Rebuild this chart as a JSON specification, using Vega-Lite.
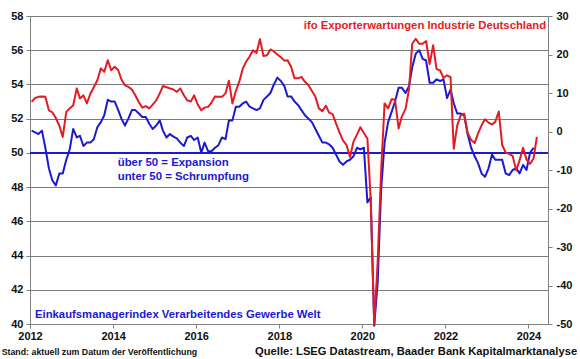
{
  "$schema": "https://vega.github.io/schema/vega-lite/v6.json",
  "width": 518,
  "height": 308,
  "autosize": {"type": "none"},
  "padding": {"left": 30, "top": 16, "right": 32, "bottom": 35},
  "background": "white",
  "config": {"view": {"stroke": null}, "font": "Liberation Sans"},
  "datasets": {
    "pmi": [
      {"date": "2012-01-15", "value": 51.3}, {"date": "2012-02-15", "value": 51.2}, {"date": "2012-03-15", "value": 51.1}, {"date": "2012-04-15", "value": 51.3},
      {"date": "2012-05-15", "value": 50.3}, {"date": "2012-06-15", "value": 49.1}, {"date": "2012-07-15", "value": 48.4}, {"date": "2012-08-15", "value": 48.1},
      {"date": "2012-09-15", "value": 48.8}, {"date": "2012-10-15", "value": 48.8}, {"date": "2012-11-15", "value": 49.6}, {"date": "2012-12-15", "value": 50.2},
      {"date": "2013-01-15", "value": 51.4}, {"date": "2013-02-15", "value": 50.9}, {"date": "2013-03-15", "value": 51.0}, {"date": "2013-04-15", "value": 50.4},
      {"date": "2013-05-15", "value": 50.6}, {"date": "2013-06-15", "value": 50.6}, {"date": "2013-07-15", "value": 50.8}, {"date": "2013-08-15", "value": 51.5},
      {"date": "2013-09-15", "value": 51.8}, {"date": "2013-10-15", "value": 52.2}, {"date": "2013-11-15", "value": 53.1}, {"date": "2013-12-15", "value": 53.0},
      {"date": "2014-01-15", "value": 53.0}, {"date": "2014-02-15", "value": 52.5}, {"date": "2014-03-15", "value": 52.0}, {"date": "2014-04-15", "value": 51.6},
      {"date": "2014-05-15", "value": 52.0}, {"date": "2014-06-15", "value": 52.5}, {"date": "2014-07-15", "value": 52.5}, {"date": "2014-08-15", "value": 52.3},
      {"date": "2014-09-15", "value": 52.1}, {"date": "2014-10-15", "value": 52.1}, {"date": "2014-11-15", "value": 51.7}, {"date": "2014-12-15", "value": 51.4},
      {"date": "2015-01-15", "value": 51.6}, {"date": "2015-02-15", "value": 51.9}, {"date": "2015-03-15", "value": 51.3}, {"date": "2015-04-15", "value": 50.9},
      {"date": "2015-05-15", "value": 51.1}, {"date": "2015-06-15", "value": 50.95}, {"date": "2015-07-15", "value": 50.85}, {"date": "2015-08-15", "value": 50.6},
      {"date": "2015-09-15", "value": 50.4}, {"date": "2015-10-15", "value": 50.9}, {"date": "2015-11-15", "value": 51.0}, {"date": "2015-12-15", "value": 50.75},
      {"date": "2016-01-15", "value": 50.9}, {"date": "2016-02-15", "value": 50.0}, {"date": "2016-03-15", "value": 50.6}, {"date": "2016-04-15", "value": 50.1},
      {"date": "2016-05-15", "value": 50.1}, {"date": "2016-06-15", "value": 50.3}, {"date": "2016-07-15", "value": 50.45}, {"date": "2016-08-15", "value": 50.9},
      {"date": "2016-09-15", "value": 50.8}, {"date": "2016-10-15", "value": 51.9}, {"date": "2016-11-15", "value": 51.9}, {"date": "2016-12-15", "value": 52.7},
      {"date": "2017-01-15", "value": 52.7}, {"date": "2017-02-15", "value": 52.9}, {"date": "2017-03-15", "value": 53.0}, {"date": "2017-04-15", "value": 52.7},
      {"date": "2017-05-15", "value": 52.6}, {"date": "2017-06-15", "value": 52.5}, {"date": "2017-07-15", "value": 52.6}, {"date": "2017-08-15", "value": 53.1},
      {"date": "2017-09-15", "value": 53.3}, {"date": "2017-10-15", "value": 53.5}, {"date": "2017-11-15", "value": 54.0}, {"date": "2017-12-15", "value": 54.4},
      {"date": "2018-01-15", "value": 54.2}, {"date": "2018-02-15", "value": 53.9}, {"date": "2018-03-15", "value": 53.3}, {"date": "2018-04-15", "value": 53.3},
      {"date": "2018-05-15", "value": 53.0}, {"date": "2018-06-15", "value": 52.8}, {"date": "2018-07-15", "value": 52.5}, {"date": "2018-08-15", "value": 52.2},
      {"date": "2018-09-15", "value": 52.0}, {"date": "2018-10-15", "value": 51.8}, {"date": "2018-11-15", "value": 51.4}, {"date": "2018-12-15", "value": 51.0},
      {"date": "2019-01-15", "value": 50.6}, {"date": "2019-02-15", "value": 50.6}, {"date": "2019-03-15", "value": 50.5}, {"date": "2019-04-15", "value": 50.3},
      {"date": "2019-05-15", "value": 49.9}, {"date": "2019-06-15", "value": 49.5}, {"date": "2019-07-15", "value": 49.3}, {"date": "2019-08-15", "value": 49.5},
      {"date": "2019-09-15", "value": 49.6}, {"date": "2019-10-15", "value": 49.8}, {"date": "2019-11-15", "value": 50.3}, {"date": "2019-12-15", "value": 50.2},
      {"date": "2020-01-15", "value": 50.3}, {"date": "2020-02-15", "value": 47.1}, {"date": "2020-03-15", "value": 47.4}, {"date": "2020-04-15", "value": 39.9},
      {"date": "2020-05-15", "value": 42.4}, {"date": "2020-06-15", "value": 47.9}, {"date": "2020-07-15", "value": 50.6}, {"date": "2020-08-15", "value": 51.8},
      {"date": "2020-09-15", "value": 52.4}, {"date": "2020-10-15", "value": 53.0}, {"date": "2020-11-15", "value": 53.8}, {"date": "2020-12-15", "value": 53.8},
      {"date": "2021-01-15", "value": 53.5}, {"date": "2021-02-15", "value": 53.9}, {"date": "2021-03-15", "value": 55.0}, {"date": "2021-04-15", "value": 55.8},
      {"date": "2021-05-15", "value": 56.0}, {"date": "2021-06-15", "value": 55.5}, {"date": "2021-07-15", "value": 55.4}, {"date": "2021-08-15", "value": 54.1},
      {"date": "2021-09-15", "value": 54.1}, {"date": "2021-10-15", "value": 54.3}, {"date": "2021-11-15", "value": 54.2}, {"date": "2021-12-15", "value": 54.3},
      {"date": "2022-01-15", "value": 53.2}, {"date": "2022-02-15", "value": 53.7}, {"date": "2022-03-15", "value": 52.9}, {"date": "2022-04-15", "value": 52.3},
      {"date": "2022-05-15", "value": 52.3}, {"date": "2022-06-15", "value": 52.2}, {"date": "2022-07-15", "value": 51.1}, {"date": "2022-08-15", "value": 50.3},
      {"date": "2022-09-15", "value": 49.8}, {"date": "2022-10-15", "value": 49.4}, {"date": "2022-11-15", "value": 48.8}, {"date": "2022-12-15", "value": 48.6},
      {"date": "2023-01-15", "value": 49.1}, {"date": "2023-02-15", "value": 49.9}, {"date": "2023-03-15", "value": 49.6}, {"date": "2023-04-15", "value": 49.6},
      {"date": "2023-05-15", "value": 49.6}, {"date": "2023-06-15", "value": 48.8}, {"date": "2023-07-15", "value": 48.7}, {"date": "2023-08-15", "value": 49.0},
      {"date": "2023-09-15", "value": 49.1}, {"date": "2023-10-15", "value": 48.8}, {"date": "2023-11-15", "value": 49.3}, {"date": "2023-12-15", "value": 49.0},
      {"date": "2024-01-15", "value": 50.0}, {"date": "2024-02-15", "value": 50.3}
    ],
    "ifo": [
      {"date": "2012-01-15", "value": 7.7}, {"date": "2012-02-15", "value": 8.7}, {"date": "2012-03-15", "value": 9.0}, {"date": "2012-04-15", "value": 9.1},
      {"date": "2012-05-15", "value": 9.0}, {"date": "2012-06-15", "value": 5.5}, {"date": "2012-07-15", "value": 5.0}, {"date": "2012-08-15", "value": 3.5},
      {"date": "2012-09-15", "value": 1.5}, {"date": "2012-10-15", "value": -1.4}, {"date": "2012-11-15", "value": 5.1}, {"date": "2012-12-15", "value": 6.0},
      {"date": "2013-01-15", "value": 6.8}, {"date": "2013-02-15", "value": 11.2}, {"date": "2013-03-15", "value": 8.6}, {"date": "2013-04-15", "value": 9.4},
      {"date": "2013-05-15", "value": 7.3}, {"date": "2013-06-15", "value": 9.8}, {"date": "2013-07-15", "value": 11.5}, {"date": "2013-08-15", "value": 13.3},
      {"date": "2013-09-15", "value": 16.4}, {"date": "2013-10-15", "value": 15.5}, {"date": "2013-11-15", "value": 18.5}, {"date": "2013-12-15", "value": 15.9},
      {"date": "2014-01-15", "value": 16.8}, {"date": "2014-02-15", "value": 15.9}, {"date": "2014-03-15", "value": 13.5}, {"date": "2014-04-15", "value": 12.0},
      {"date": "2014-05-15", "value": 11.6}, {"date": "2014-06-15", "value": 10.9}, {"date": "2014-07-15", "value": 9.4}, {"date": "2014-08-15", "value": 7.6},
      {"date": "2014-09-15", "value": 6.2}, {"date": "2014-10-15", "value": 6.6}, {"date": "2014-11-15", "value": 6.0}, {"date": "2014-12-15", "value": 7.0},
      {"date": "2015-01-15", "value": 8.1}, {"date": "2015-02-15", "value": 9.9}, {"date": "2015-03-15", "value": 11.8}, {"date": "2015-04-15", "value": 11.5},
      {"date": "2015-05-15", "value": 11.2}, {"date": "2015-06-15", "value": 10.9}, {"date": "2015-07-15", "value": 10.3}, {"date": "2015-08-15", "value": 11.2},
      {"date": "2015-09-15", "value": 9.4}, {"date": "2015-10-15", "value": 8.1}, {"date": "2015-11-15", "value": 7.8}, {"date": "2015-12-15", "value": 9.4},
      {"date": "2016-01-15", "value": 7.0}, {"date": "2016-02-15", "value": 5.5}, {"date": "2016-03-15", "value": 6.2}, {"date": "2016-04-15", "value": 6.4},
      {"date": "2016-05-15", "value": 7.5}, {"date": "2016-06-15", "value": 9.1}, {"date": "2016-07-15", "value": 9.0}, {"date": "2016-08-15", "value": 9.0},
      {"date": "2016-09-15", "value": 9.9}, {"date": "2016-10-15", "value": 13.2}, {"date": "2016-11-15", "value": 7.3}, {"date": "2016-12-15", "value": 10.5},
      {"date": "2017-01-15", "value": 13.0}, {"date": "2017-02-15", "value": 16.4}, {"date": "2017-03-15", "value": 18.1}, {"date": "2017-04-15", "value": 19.5},
      {"date": "2017-05-15", "value": 21.1}, {"date": "2017-06-15", "value": 20.4}, {"date": "2017-07-15", "value": 24.0}, {"date": "2017-08-15", "value": 19.6},
      {"date": "2017-09-15", "value": 19.8}, {"date": "2017-10-15", "value": 21.3}, {"date": "2017-11-15", "value": 20.8}, {"date": "2017-12-15", "value": 20.0},
      {"date": "2018-01-15", "value": 19.3}, {"date": "2018-02-15", "value": 18.4}, {"date": "2018-03-15", "value": 18.5}, {"date": "2018-04-15", "value": 16.8},
      {"date": "2018-05-15", "value": 13.8}, {"date": "2018-06-15", "value": 13.8}, {"date": "2018-07-15", "value": 14.2}, {"date": "2018-08-15", "value": 12.9},
      {"date": "2018-09-15", "value": 12.0}, {"date": "2018-10-15", "value": 10.5}, {"date": "2018-11-15", "value": 9.0}, {"date": "2018-12-15", "value": 6.0},
      {"date": "2019-01-15", "value": 5.3}, {"date": "2019-02-15", "value": 6.7}, {"date": "2019-03-15", "value": 4.9}, {"date": "2019-04-15", "value": 4.5},
      {"date": "2019-05-15", "value": 2.1}, {"date": "2019-06-15", "value": -0.3}, {"date": "2019-07-15", "value": -2.3}, {"date": "2019-08-15", "value": -3.5},
      {"date": "2019-09-15", "value": -6.6}, {"date": "2019-10-15", "value": -2.7}, {"date": "2019-11-15", "value": -0.8}, {"date": "2019-12-15", "value": 1.1},
      {"date": "2020-01-15", "value": -0.4}, {"date": "2020-02-15", "value": -1.8}, {"date": "2020-03-15", "value": -17.8}, {"date": "2020-04-15", "value": -50.0},
      {"date": "2020-05-15", "value": -34.0}, {"date": "2020-06-15", "value": -10.0}, {"date": "2020-07-15", "value": 7.3}, {"date": "2020-08-15", "value": 6.0},
      {"date": "2020-09-15", "value": 8.4}, {"date": "2020-10-15", "value": 8.3}, {"date": "2020-11-15", "value": 0.8}, {"date": "2020-12-15", "value": 4.0},
      {"date": "2021-01-15", "value": 5.8}, {"date": "2021-02-15", "value": 11.0}, {"date": "2021-03-15", "value": 22.8}, {"date": "2021-04-15", "value": 24.1},
      {"date": "2021-05-15", "value": 22.8}, {"date": "2021-06-15", "value": 22.8}, {"date": "2021-07-15", "value": 23.5}, {"date": "2021-08-15", "value": 17.5},
      {"date": "2021-09-15", "value": 22.4}, {"date": "2021-10-15", "value": 16.2}, {"date": "2021-11-15", "value": 15.9}, {"date": "2021-12-15", "value": 13.9},
      {"date": "2022-01-15", "value": 14.6}, {"date": "2022-02-15", "value": 14.1}, {"date": "2022-03-15", "value": -4.5}, {"date": "2022-04-15", "value": 1.6},
      {"date": "2022-05-15", "value": 4.2}, {"date": "2022-06-15", "value": 4.6}, {"date": "2022-07-15", "value": -0.3}, {"date": "2022-08-15", "value": -2.2},
      {"date": "2022-09-15", "value": -3.0}, {"date": "2022-10-15", "value": -0.5}, {"date": "2022-11-15", "value": 1.6}, {"date": "2022-12-15", "value": 3.2},
      {"date": "2023-01-15", "value": 2.3}, {"date": "2023-02-15", "value": 1.8}, {"date": "2023-03-15", "value": 2.5}, {"date": "2023-04-15", "value": 5.2},
      {"date": "2023-05-15", "value": -3.5}, {"date": "2023-06-15", "value": -5.5}, {"date": "2023-07-15", "value": -5.8}, {"date": "2023-08-15", "value": -6.3},
      {"date": "2023-09-15", "value": -10.1}, {"date": "2023-10-15", "value": -7.5}, {"date": "2023-11-15", "value": -4.2}, {"date": "2023-12-15", "value": -7.3},
      {"date": "2024-01-15", "value": -8.4}, {"date": "2024-02-15", "value": -7.0}, {"date": "2024-03-15", "value": -1.4}
    ]
  },
  "layer": [
    {
      "layer": [
        {
          "data": {"values": [{}]},
          "mark": {"type": "rule", "color": "#1a1ad2", "strokeWidth": 2},
          "encoding": {"y": {"datum": 50, "type": "quantitative"}}
        },
        {
          "data": {"name": "pmi"},
          "mark": {"type": "line", "color": "#1a1ad2", "strokeWidth": 2, "strokeJoin": "round"},
          "encoding": {
            "x": {
              "field": "date", "type": "temporal",
              "scale": {"type": "utc", "domain": [{"year": 2012, "month": 1, "date": 1, "utc": true}, {"year": 2024, "month": 6, "date": 21, "utc": true}]},
              "axis": {
                "title": null, "format": "%Y", "grid": false, "tickCount": 20,
                "values": [{"year": 2012, "utc": true}, {"year": 2014, "utc": true}, {"year": 2016, "utc": true}, {"year": 2018, "utc": true}, {"year": 2020, "utc": true}, {"year": 2022, "utc": true}, {"year": 2024, "utc": true}],
                "labelFlush": false, "labelOverlap": false, "labelFontSize": 11, "labelFontWeight": "bold", "labelColor": "#111111",
                "domainColor": "#808080", "tickColor": "#808080", "tickSize": 4, "labelPadding": 2
              }
            },
            "y": {
              "field": "value", "type": "quantitative",
              "scale": {"domain": [40, 58], "nice": false, "zero": false},
              "axis": {
                "title": null, "values": [40, 42, 44, 46, 48, 50, 52, 54, 56, 58], "tickCount": 20,
                "grid": true, "gridColor": "#7a7a7a", "gridWidth": 1, "labelOverlap": false,
                "labelFontSize": 11, "labelFontWeight": "bold", "labelColor": "#111111",
                "domainColor": "#808080", "tickColor": "#808080", "tickSize": 4, "labelPadding": 3
              }
            }
          }
        }
      ]
    },
    {
      "layer": [
        {
          "data": {"name": "ifo"},
          "mark": {"type": "line", "color": "#e41b23", "strokeWidth": 2, "strokeJoin": "round"},
          "encoding": {
            "x": {"field": "date", "type": "temporal"},
            "y": {
              "field": "value", "type": "quantitative",
              "scale": {"domain": [-50, 30], "nice": false, "zero": false},
              "axis": {
                "orient": "right", "title": null, "values": [-50, -40, -30, -20, -10, 0, 10, 20, 30], "tickCount": 20,
                "grid": false, "labelOverlap": false, "labelExpr": "replace(datum.label, '−', '-')",
                "labelFontSize": 11, "labelFontWeight": "bold", "labelColor": "#111111",
                "domainColor": "#808080", "tickColor": "#808080", "tickSize": 4, "labelPadding": 4
              }
            }
          }
        },
        {
          "data": {"values": [{}]},
          "mark": {"type": "text", "text": "über 50 = Expansion", "align": "left", "baseline": "middle", "fontSize": 11.4, "fontWeight": "bold", "color": "#1a1ad2"},
          "encoding": {
            "x": {"datum": {"year": 2014, "month": 2, "date": 10, "utc": true}, "type": "temporal"},
            "y": {"datum": -8.2, "type": "quantitative"}
          }
        },
        {
          "data": {"values": [{}]},
          "mark": {"type": "text", "text": "unter 50 = Schrumpfung", "align": "left", "baseline": "middle", "fontSize": 11.4, "fontWeight": "bold", "color": "#1a1ad2"},
          "encoding": {
            "x": {"datum": {"year": 2014, "month": 2, "date": 10, "utc": true}, "type": "temporal"},
            "y": {"datum": -11.85, "type": "quantitative"}
          }
        },
        {
          "data": {"values": [{}]},
          "mark": {"type": "text", "text": "Einkaufsmanagerindex Verarbeitendes Gewerbe Welt", "align": "left", "baseline": "middle", "fontSize": 11.3, "fontWeight": "bold", "color": "#1a1ad2"},
          "encoding": {
            "x": {"datum": {"year": 2012, "month": 2, "date": 14, "utc": true}, "type": "temporal"},
            "y": {"datum": -47.75, "type": "quantitative"}
          }
        },
        {
          "data": {"values": [{}]},
          "mark": {"type": "text", "text": "ifo Exporterwartungen Industrie Deutschland", "align": "right", "baseline": "middle", "fontSize": 11.3, "fontWeight": "bold", "color": "#e41b23"},
          "encoding": {
            "x": {"datum": {"year": 2024, "month": 6, "date": 4, "utc": true}, "type": "temporal"},
            "y": {"datum": 27.33, "type": "quantitative"}
          }
        },
        {
          "data": {"values": [{}]},
          "mark": {"type": "text", "text": "Stand: aktuell zum Datum der Veröffentlichung", "align": "left", "baseline": "middle", "fontSize": 8.8, "fontWeight": "bold", "color": "#111111"},
          "encoding": {
            "x": {"datum": {"year": 2011, "month": 4, "date": 27, "utc": true}, "type": "temporal"},
            "y": {"datum": -57.27, "type": "quantitative"}
          }
        },
        {
          "data": {"values": [{}]},
          "mark": {"type": "text", "text": "Quelle: LSEG Datastream, Baader Bank Kapitalmarktanalyse", "align": "right", "baseline": "middle", "fontSize": 11.2, "fontWeight": "bold", "color": "#111111"},
          "encoding": {
            "x": {"datum": {"year": 2025, "month": 3, "date": 4, "utc": true}, "type": "temporal"},
            "y": {"datum": -57.27, "type": "quantitative"}
          }
        }
      ]
    }
  ],
  "resolve": {"scale": {"y": "independent"}}
}
